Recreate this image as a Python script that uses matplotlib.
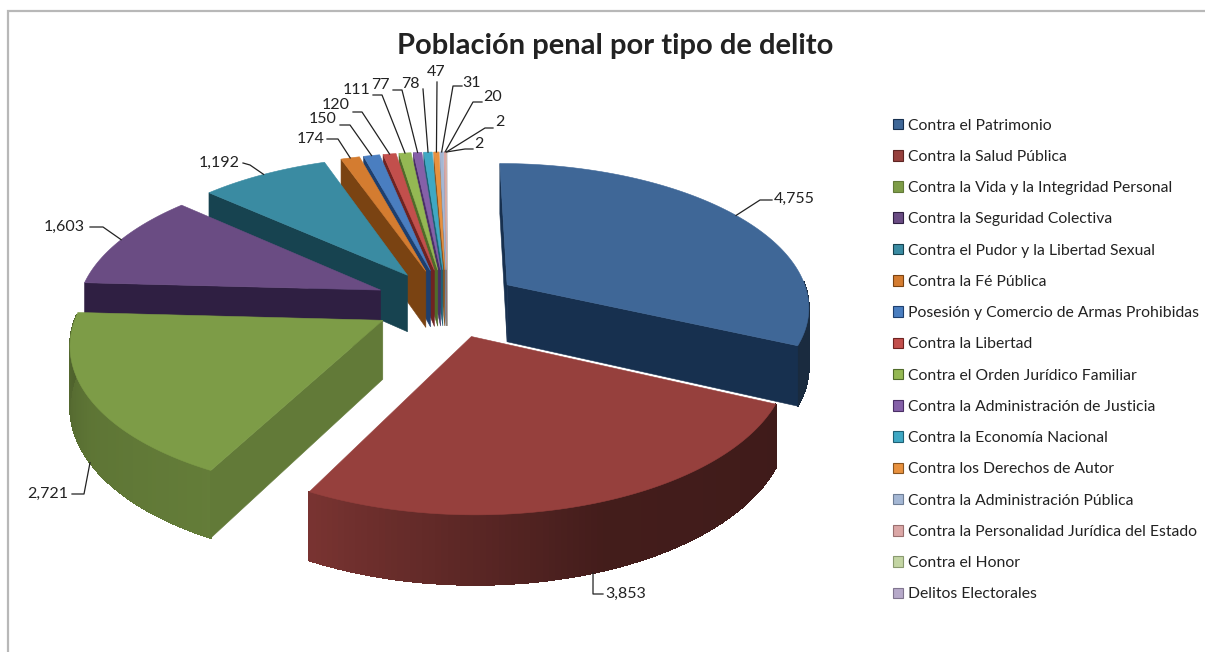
import numpy as np
import matplotlib
matplotlib.use("Agg")
import matplotlib.pyplot as plt
from matplotlib.patches import Patch, Polygon

plt.rcParams["font.family"] = ["Lato", "DejaVu Sans"]

# datos
delitos = ["Contra el Patrimonio", "Contra la Salud Pública",
           "Contra la Vida y la Integridad Personal", "Contra la Seguridad Colectiva",
           "Contra el Pudor y la Libertad Sexual", "Contra la Fé Pública",
           "Posesión y Comercio de Armas Prohibidas", "Contra la Libertad",
           "Contra el Orden Jurídico Familiar", "Contra la Administración de Justicia",
           "Contra la Economía Nacional", "Contra los Derechos de Autor",
           "Contra la Administración Pública", "Contra la Personalidad Jurídica del Estado",
           "Contra el Honor", "Delitos Electorales"]
poblacion = [4755, 3853, 2721, 1603, 1192, 174, 150, 120, 111, 77, 78, 47, 31, 20, 2, 2]
etiquetas = ["4,755", "3,853", "2,721", "1,603", "1,192", "174", "150", "120",
             "111", "77", "78", "47", "31", "20", "2", "2"]

# colores
top_col = ["#3f6797", "#96403d", "#7d9c47", "#6a4c83", "#3a8ba2", "#d47c30", "#4a7ec0", "#c24f4c",
           "#94b853", "#8560a8", "#3fa8c4", "#e8913e", "#a4b7d4", "#dba7a6", "#c3d5a3", "#b6a9c9"]
cut_col = ["#17304f", "#5e2523", "#627a38", "#2f1f42", "#174350", "#7a4312", "#1e3f6e", "#6f2321",
           "#506b2a", "#4a2f66", "#1e6074", "#8a5520", "#6f7f96", "#9a7070", "#8a9a70", "#80758f"]

# layout de etiquetas en pixeles: texto (x, y, ha) y codo de la linea
label_pos = [(774, 199, "left"), (605, 594, "left"), (68, 494, "right"), (85, 227, "right"),
             (240, 163, "right"), (325, 139, "right"), (337, 119, "right"), (350, 105, "right"),
             (370, 90, "right"), (390, 85, "right"), (420, 84, "right"), (445, 72, "right"),
             (462, 83, "left"), (483, 97, "left"), (495, 122, "left"), (474, 144, "left")]
elbows = [[(772, 200), (760, 200)], [(603, 594), (593, 594)], [(72, 494), (84, 494)],
          [(90, 227), (103, 227)], [(243, 163), (250, 165)], [(327, 139), (338, 139)],
          [(340, 125), (350, 125)], [(353, 112), (362, 112)], [(373, 95), (382, 95)],
          [(393, 90), (402, 90)], [(423, 89), (423, 89)], [(437, 82), (437, 82)],
          [(462, 86), (453, 86)], [(482, 102), (473, 102)], [(493, 128), (485, 128)],
          [(473, 149), (465, 149)]]

# proyeccion del pastel
cx, cy = 447, 303
rx, ry = 303, 143
persp = 0.14
explode = 0.24
height = 58


def project(theta, r, phi, z=0.0):
    x = r * np.sin(theta) + explode * np.sin(phi)
    y = r * np.cos(theta) + explode * np.cos(phi)
    w = 1 + persp * y
    return cx + rx * x / w, cy - ry * y / w + height * z / w


def shade(col, f):
    c = np.array(matplotlib.colors.to_rgb(col)) * f
    return tuple(np.clip(c, 0, 1))


fig = plt.figure(figsize=(12.05, 6.52), dpi=100)
ax = fig.add_axes([0, 0, 1, 1])
ax.set_xlim(0, 1205)
ax.set_ylim(652, 0)
ax.axis("off")

# marco
ax.plot([8, 8, 1205], [652, 11, 11], color="#b8b8b8", lw=1.6, solid_joinstyle="miter")

angles = np.cumsum([0] + poblacion) / sum(poblacion) * 2 * np.pi
mids = (angles[:-1] + angles[1:]) / 2

# de atras hacia adelante
for i in np.argsort(-np.cos(mids)):
    t1, t2, phi = angles[i], angles[i + 1], mids[i]
    arc = np.linspace(t1, t2, max(int(np.degrees(t2 - t1)) + 2, 3))

    # pared exterior en tiras
    for a, b in zip(arc[:-1], arc[1:]):
        if np.cos((a + b) / 2) > 0.03:
            continue
        deg = np.degrees((a + b) / 2)
        f = np.interp(deg, [90, 115, 160, 207, 240, 273], [0.42, 0.42, 0.45, 0.8, 0.75, 0.62])
        pts = [project(a, 1, phi), project(b, 1, phi), project(b, 1, phi, 1), project(a, 1, phi, 1)]
        col = shade(top_col[i], f)
        ax.add_patch(Polygon(pts, closed=True, fc=col, ec=col, lw=0.6, antialiased=False))

    # caras de corte visibles
    faces = []
    if np.sin(t1) <= 0.01:
        faces.append(t1)
    if np.sin(t2) >= -0.01 and i == 0:
        faces.append(t2)
    for t in faces:
        pts = [project(0, 0, phi), project(t, 1, phi), project(t, 1, phi, 1), project(0, 0, phi, 1)]
        ax.add_patch(Polygon(pts, closed=True, fc=cut_col[i], ec=cut_col[i], lw=0.4))

    # tapa
    pts = [project(0, 0, phi)] + [project(a, 1, phi) for a in arc]
    ax.add_patch(Polygon(pts, closed=True, fc=top_col[i], ec=top_col[i], lw=0.4))

# etiquetas con lineas guia
for i in range(len(poblacion)):
    x, y, ha = label_pos[i]
    ax.text(x, y, etiquetas[i], ha=ha, va="center", fontsize=11.5, color="#222222")
    # las rebanadas del frente llevan la guia al borde inferior de la pared
    z = 1 if np.cos(mids[i]) < 0 else 0
    ax_pt = project(mids[i], 1.0, mids[i], z)
    xs = [elbows[i][0][0], elbows[i][1][0], ax_pt[0]]
    ys = [elbows[i][0][1], elbows[i][1][1], ax_pt[1]]
    ax.plot(xs, ys, color="#222222", lw=0.9, zorder=5)

ax.text(615, 46, "Población penal por tipo de delito", ha="center", va="center",
        fontsize=21, fontweight="bold", color="#222222")

handles = [Patch(fc=top_col[i], ec=cut_col[i], lw=0.8) for i in range(len(delitos))]
ax.legend(handles, delitos, loc="upper left", bbox_to_anchor=(892.5 / 1205, 1 - 118.5 / 652),
          frameon=False, fontsize=11.3, handlelength=0.66, handleheight=0.66, handletextpad=0.3,
          labelspacing=1.1, borderpad=0, borderaxespad=0, labelcolor="#222222")

fig.savefig("out.png", dpi=100)
